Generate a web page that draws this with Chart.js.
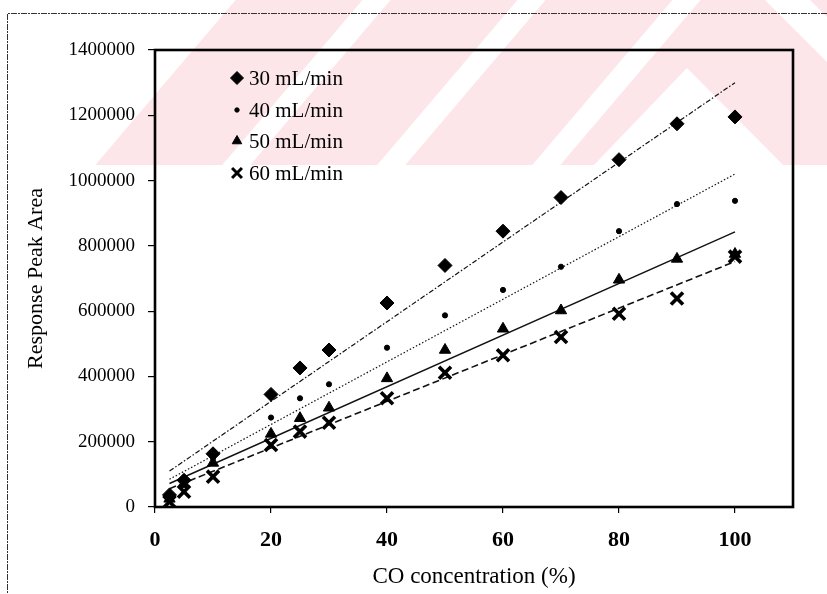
<!DOCTYPE html>
<html>
<head>
<meta charset="utf-8">
<script src="https://cdn.jsdelivr.net/npm/chart.js@4.4.1/dist/chart.umd.min.js"></script>
<style>
  html, body { margin: 0; padding: 0; background: #ffffff; }
  #wrap { position: relative; width: 827px; height: 594px; }
  canvas { display: block; }
</style>
</head>
<body>
<div id="wrap"><canvas id="c" width="827" height="594"></canvas></div>
<script>
// ---- data ----
const concentrations = [2.5, 5, 10, 20, 25, 30, 40, 50, 60, 70, 80, 90, 100];
const flow30 = [37000, 82000, 163000, 345000, 426000, 481000, 625000, 740000, 845000, 948000, 1064000, 1174000, 1195000];
const flow40 = [30000, 74000, 150000, 274000, 333000, 376000, 488000, 587000, 665000, 736000, 845000, 928000, 938000];
const flow50 = [25000, 70000, 135000, 224000, 272000, 304000, 394000, 481000, 546000, 602000, 696000, 760000, 775000];
const flow60 = [16000, 47000, 93000, 190000, 231000, 258000, 333000, 411000, 465000, 521000, 592000, 639000, 767000];
// trend line end points (x = 2.5 and x = 100)
const trendX = [2.5, 100];
const trend30 = [110000, 1300000];
const trend40 = [85000, 1020000];
const trend50 = [72000, 843000];
const trend60 = [56000, 752000];
const seriesLabels = ['30 mL/min', '40 mL/min', '50 mL/min', '60 mL/min'];
const xTickValues = [0, 20, 40, 60, 80, 100];
const yTickValues = [0, 200000, 400000, 600000, 800000, 1000000, 1200000, 1400000];
const xTitle = 'CO concentration (%)';
const yTitle = 'Response Peak Area';

const pts = (xs, ys) => xs.map((x, i) => ({x: x, y: ys[i]}));
const serif = "'Liberation Serif', 'Times New Roman', serif";

const markerStyles = [
  {pointStyle: 'rectRot', radius: 7, borderWidth: 1},
  {pointStyle: 'circle', radius: 2.6, borderWidth: 1},
  {pointStyle: 'triangle', radius: 6.5, borderWidth: 1},
  {pointStyle: 'crossRot', radius: 8.5, borderWidth: 3.6}
];
const lineDashes = [[5, 2, 1.5, 2], [1.5, 2], [], [7, 3.5]];
const lineWidths = [1.2, 1.2, 1.4, 1.6];

const seriesValues = [flow30, flow40, flow50, flow60];
const trendValues = [trend30, trend40, trend50, trend60];

const datasets = [];
trendValues.forEach((t, i) => {
  datasets.push({
    label: 'trend ' + seriesLabels[i],
    data: pts(trendX, t),
    showLine: true,
    borderColor: '#111',
    borderWidth: lineWidths[i],
    borderDash: lineDashes[i],
    pointRadius: 0,
    pointHoverRadius: 0,
    fill: false,
    order: 5
  });
});
seriesValues.forEach((v, i) => {
  const m = markerStyles[i];
  datasets.push({
    label: seriesLabels[i],
    data: pts(concentrations, v),
    showLine: false,
    pointStyle: m.pointStyle,
    pointRadius: m.radius,
    pointHoverRadius: m.radius,
    pointBorderWidth: m.borderWidth,
    pointBackgroundColor: '#000',
    pointBorderColor: '#000',
    order: 4 - i
  });
});

// watermark (light pink diagonal stripes behind the chart)
const watermark = {
  id: 'watermark',
  beforeDraw(chart) {
    const ctx = chart.ctx;
    const H = 165, lean = 0.85;
    ctx.save();
    ctx.beginPath();
    ctx.rect(0, 0, 827, H);
    ctx.clip();
    ctx.fillStyle = '#fde6ea';
    // left-leaning bands "/" : left edge at y = 30
    const bandLeft = [210, 365, 520];
    const bandWidth = 127;
    bandLeft.forEach(x30 => {
      const xb = x30 - lean * (H - 30);
      const xt = x30 + lean * 30;
      ctx.beginPath();
      ctx.moveTo(xb, H);
      ctx.lineTo(xb + bandWidth, H);
      ctx.lineTo(xt + bandWidth, 0);
      ctx.lineTo(xt, 0);
      ctx.closePath();
      ctx.fill();
    });
    // right part: pink with a white chevron and a white "\" band
    const x3b = 675 - lean * (H - 30);
    const x3t = 675 + lean * 30;
    ctx.beginPath();
    ctx.moveTo(x3b, H);
    ctx.lineTo(594, H);
    ctx.lineTo(687, 68);
    ctx.lineTo(783, H);
    ctx.lineTo(827, H);
    ctx.lineTo(827, 62);
    ctx.lineTo(765, 0);
    ctx.lineTo(x3t, 0);
    ctx.closePath();
    ctx.fill();
    ctx.beginPath();
    ctx.moveTo(810, 0);
    ctx.lineTo(827, 0);
    ctx.lineTo(827, 17);
    ctx.closePath();
    ctx.fill();
    ctx.restore();
    // outer frame
    ctx.save();
    ctx.strokeStyle = '#333';
    ctx.lineWidth = 1;
    ctx.setLineDash([6, 1, 2, 1]);
    ctx.beginPath();
    ctx.moveTo(7.5, 600);
    ctx.lineTo(7.5, 13.5);
    ctx.lineTo(840, 13.5);
    ctx.stroke();
    ctx.restore();
  }
};

// frame around the plot area + in-plot legend
const frameAndLegend = {
  id: 'frameAndLegend',
  afterDraw(chart) {
    const ctx = chart.ctx;
    const a = chart.chartArea;
    ctx.save();
    ctx.strokeStyle = '#000';
    ctx.lineWidth = 2.6;
    ctx.strokeRect(a.left, a.top, a.right - a.left, a.bottom - a.top);
    ctx.restore();

    const rows = [78, 110, 141, 173];
    const legendMarkers = [
      {pointStyle: 'rectRot', radius: 6.5, borderWidth: 1},
      {pointStyle: 'circle', radius: 2.2, borderWidth: 1},
      {pointStyle: 'triangle', radius: 5.5, borderWidth: 1},
      {pointStyle: 'crossRot', radius: 7, borderWidth: 3}
    ];
    ctx.save();
    ctx.font = '21px ' + serif;
    ctx.textBaseline = 'middle';
    ctx.textAlign = 'left';
    seriesLabels.forEach((lab, i) => {
      const m = legendMarkers[i];
      ctx.fillStyle = '#000';
      ctx.strokeStyle = '#000';
      ctx.lineWidth = m.borderWidth;
      Chart.helpers.drawPoint(ctx, {pointStyle: m.pointStyle, radius: m.radius, rotation: 0, borderWidth: m.borderWidth}, 237, rows[i]);
      ctx.fillStyle = '#000';
      ctx.fillText(lab, 249, rows[i] + 1);
    });
    ctx.restore();
  }
};

new Chart(document.getElementById('c'), {
  type: 'scatter',
  data: {datasets: datasets},
  options: {
    responsive: false,
    animation: false,
    events: [],
    layout: {padding: {left: 0, right: 34, top: 50, bottom: 0}},
    plugins: {
      legend: {display: false},
      tooltip: {enabled: false}
    },
    scales: {
      x: {
        type: 'linear',
        min: 0,
        max: 110,
        afterBuildTicks(scale) { scale.ticks = xTickValues.map(v => ({value: v})); },
        afterFit(scale) { scale.height = 87; },
        grid: {display: true, drawOnChartArea: false, drawTicks: true, tickLength: 6, color: '#000', lineWidth: 1.2},
        border: {display: false},
        ticks: {
          color: '#000',
          padding: 14,
          maxRotation: 0,
          font: {family: serif, size: 22, weight: 'bold'},
          callback: v => String(v)
        },
        title: {
          display: true,
          text: xTitle,
          color: '#000',
          font: {family: serif, size: 23},
          padding: {top: 0, bottom: 3}
        }
      },
      y: {
        type: 'linear',
        min: 0,
        max: 1400000,
        afterBuildTicks(scale) { scale.ticks = yTickValues.map(v => ({value: v})); },
        afterFit(scale) { scale.width = 155; },
        grid: {display: true, drawOnChartArea: false, drawTicks: true, tickLength: 7, color: '#000', lineWidth: 1.2},
        border: {display: false},
        ticks: {
          color: '#000',
          padding: 13,
          font: {family: serif, size: 19},
          callback: v => String(v)
        },
        title: {
          display: true,
          text: yTitle,
          color: '#000',
          font: {family: serif, size: 22},
          padding: {top: 23, bottom: 0}
        }
      }
    }
  },
  plugins: [watermark, frameAndLegend]
});
</script>
</body>
</html>
